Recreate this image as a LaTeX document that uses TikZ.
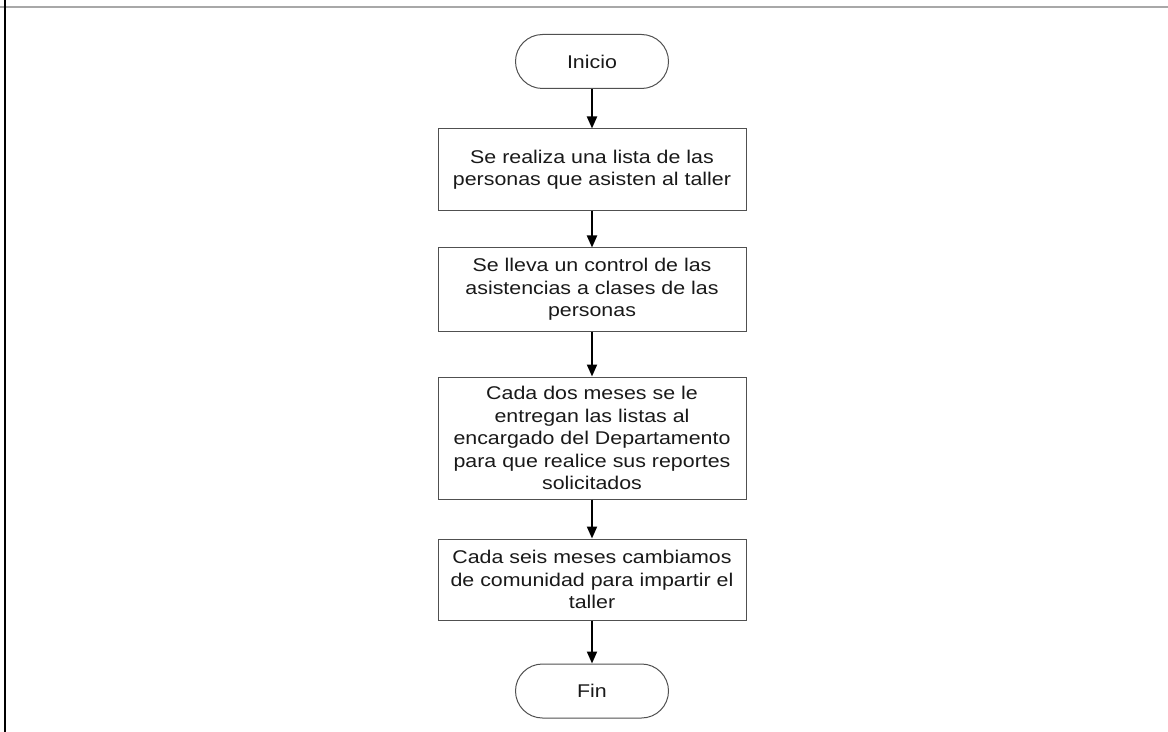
\documentclass[tikz,border=0pt]{standalone}
\usepackage{fontspec}
\setmainfont{Liberation Sans}[FakeStretch=1.16]
\usetikzlibrary{arrows.meta}
\definecolor{boxgray}{HTML}{505050}
\definecolor{rulegray}{HTML}{A8A8A8}
\begin{document}
\begin{tikzpicture}[x=1bp,y=-1bp,
  every node/.style={font=\fontsize{18.5}{22.5}\selectfont, align=center, inner sep=0pt, text=black!90},
  procbox/.style={draw=boxgray, line width=1bp, minimum width=308bp},
  terminal/.style={draw=boxgray, line width=1bp, rounded corners=27bp,
                   minimum width=153bp, minimum height=54bp},
  flow/.style={line width=2bp, -{Triangle[length=12bp,width=10bp]}}]

% page frame: grey rule on top, black rule on the left
\useasboundingbox (0,0) rectangle (1168,732);
\draw[rulegray, line width=2bp] (0,7) -- (1168,7);
\draw[black, line width=2.5bp] (5,0) -- (5,732);

% flowchart steps
\node[terminal] (inicio) at (592,61.5) {Inicio};
\node[procbox, minimum height=81bp] (lista) at (592,169.5)
  {Se realiza una lista de las\\personas que asisten al taller};
\node[procbox, minimum height=83bp] (control) at (592,289.5)
  {Se lleva un control de las\\asistencias a clases de las\\personas};
\node[procbox, minimum height=122bp] (entrega) at (592,438)
  {Cada dos meses se le\\entregan las listas al\\encargado del Departamento\\para que realice sus reportes\\solicitados};
\node[procbox, minimum height=81bp] (cambio) at (592,579.5)
  {Cada seis meses cambiamos\\de comunidad para impartir el\\taller};
\node[terminal] (fin) at (592,691) {Fin};

% connectors
\draw[flow] (inicio) -- (lista);
\draw[flow] (lista) -- (control);
\draw[flow] (control) -- (entrega);
\draw[flow] (entrega) -- (cambio);
\draw[flow] (cambio) -- (fin);
\end{tikzpicture}
\end{document}
